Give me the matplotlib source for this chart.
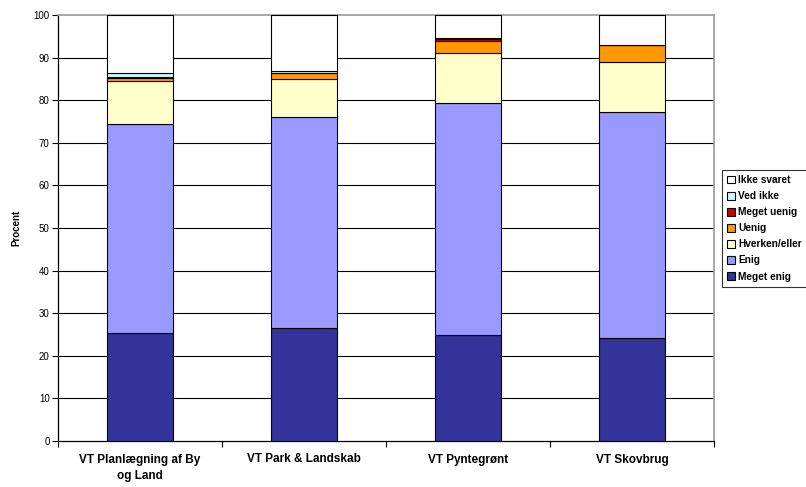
import numpy as np
import matplotlib
matplotlib.use("Agg")
import matplotlib.pyplot as plt

plt.rcParams["font.family"] = ["Liberation Sans", "DejaVu Sans"]

# Data (percent)
categories = ["VT Planlægning af By\nog Land", "VT Park & Landskab", "VT Pyntegrønt", "VT Skovbrug"]
series_names = ["Meget enig", "Enig", "Hverken/eller", "Uenig", "Meget uenig", "Ved ikke", "Ikke svaret"]
meget_enig = [25.3, 26.5, 25.0, 24.1]
enig = [49.2, 49.5, 54.4, 53.1]
hverken = [10.0, 9.0, 11.7, 11.7]
uenig = [0.8, 1.3, 2.7, 4.1]
meget_uenig = [0.2, 0.2, 0.6, 0.0]
ved_ikke = [0.8, 0.3, 0.1, 0.0]
ikke_svaret = [13.7, 13.2, 5.5, 7.1]
colors = ["#333399", "#9999FF", "#FFFFCC", "#FF9900", "#CC0000", "#CCFFFF", "#FFFFFF"]

values = [meget_enig, enig, hverken, uenig, meget_uenig, ved_ikke, ikke_svaret]

fig = plt.figure(figsize=(8.06, 4.87), dpi=100)
ax = fig.add_axes([58 / 806, 46 / 487, 656 / 806, 426 / 487])

x = np.arange(len(categories))
bottom = np.zeros(len(categories))
handles = []
for name, vals, col in zip(series_names, values, colors):
    b = ax.bar(x, vals, width=0.4, bottom=bottom, color=col, edgecolor="black",
               linewidth=0.8, label=name, zorder=3)
    handles.append(b)
    bottom += np.array(vals)

ax.set_xlim(-0.5, len(categories) - 0.5)
ax.set_ylim(0, 100)
ax.set_yticks(range(0, 101, 10))
ax.tick_params(axis="y", labelsize=7, length=4, width=0.8, direction="out", pad=2)

# boundary ticks, labels at centres
ax.set_xticks(np.arange(-0.5, len(categories), 1.0))
ax.set_xticklabels([])
ax.set_xticks(x, minor=True)
ax.set_xticklabels(categories, minor=True, fontsize=8.5, fontweight="bold",
                   linespacing=1.45)
ax.tick_params(axis="x", which="major", length=4, width=0.8, direction="out")
ax.tick_params(axis="x", which="minor", length=0, pad=9)

for yv in range(10, 100, 10):
    ax.axhline(yv, color="black", linewidth=0.8, zorder=1)

ax.spines["left"].set_color("black")
ax.spines["bottom"].set_color("black")
ax.spines["left"].set_linewidth(0.9)
ax.spines["bottom"].set_linewidth(0.9)
ax.spines["top"].set_color("#999999")
ax.spines["right"].set_color("#999999")
ax.spines["top"].set_linewidth(1.2)
ax.spines["right"].set_linewidth(1.2)

ax.set_ylabel("Procent", fontsize=7, fontweight="bold", labelpad=9)

leg = fig.legend(handles[::-1], series_names[::-1], loc="upper left",
                 bbox_to_anchor=(722 / 806, 1 - 170 / 487),
                 prop={"size": 7.3, "weight": "bold"},
                 frameon=True, fancybox=False, edgecolor="black",
                 handlelength=0.8, handleheight=0.8, handletextpad=0.3,
                 labelspacing=0.6, borderpad=0.5, borderaxespad=0)
leg.get_frame().set_linewidth(0.8)

fig.savefig("out.png", dpi=100)
